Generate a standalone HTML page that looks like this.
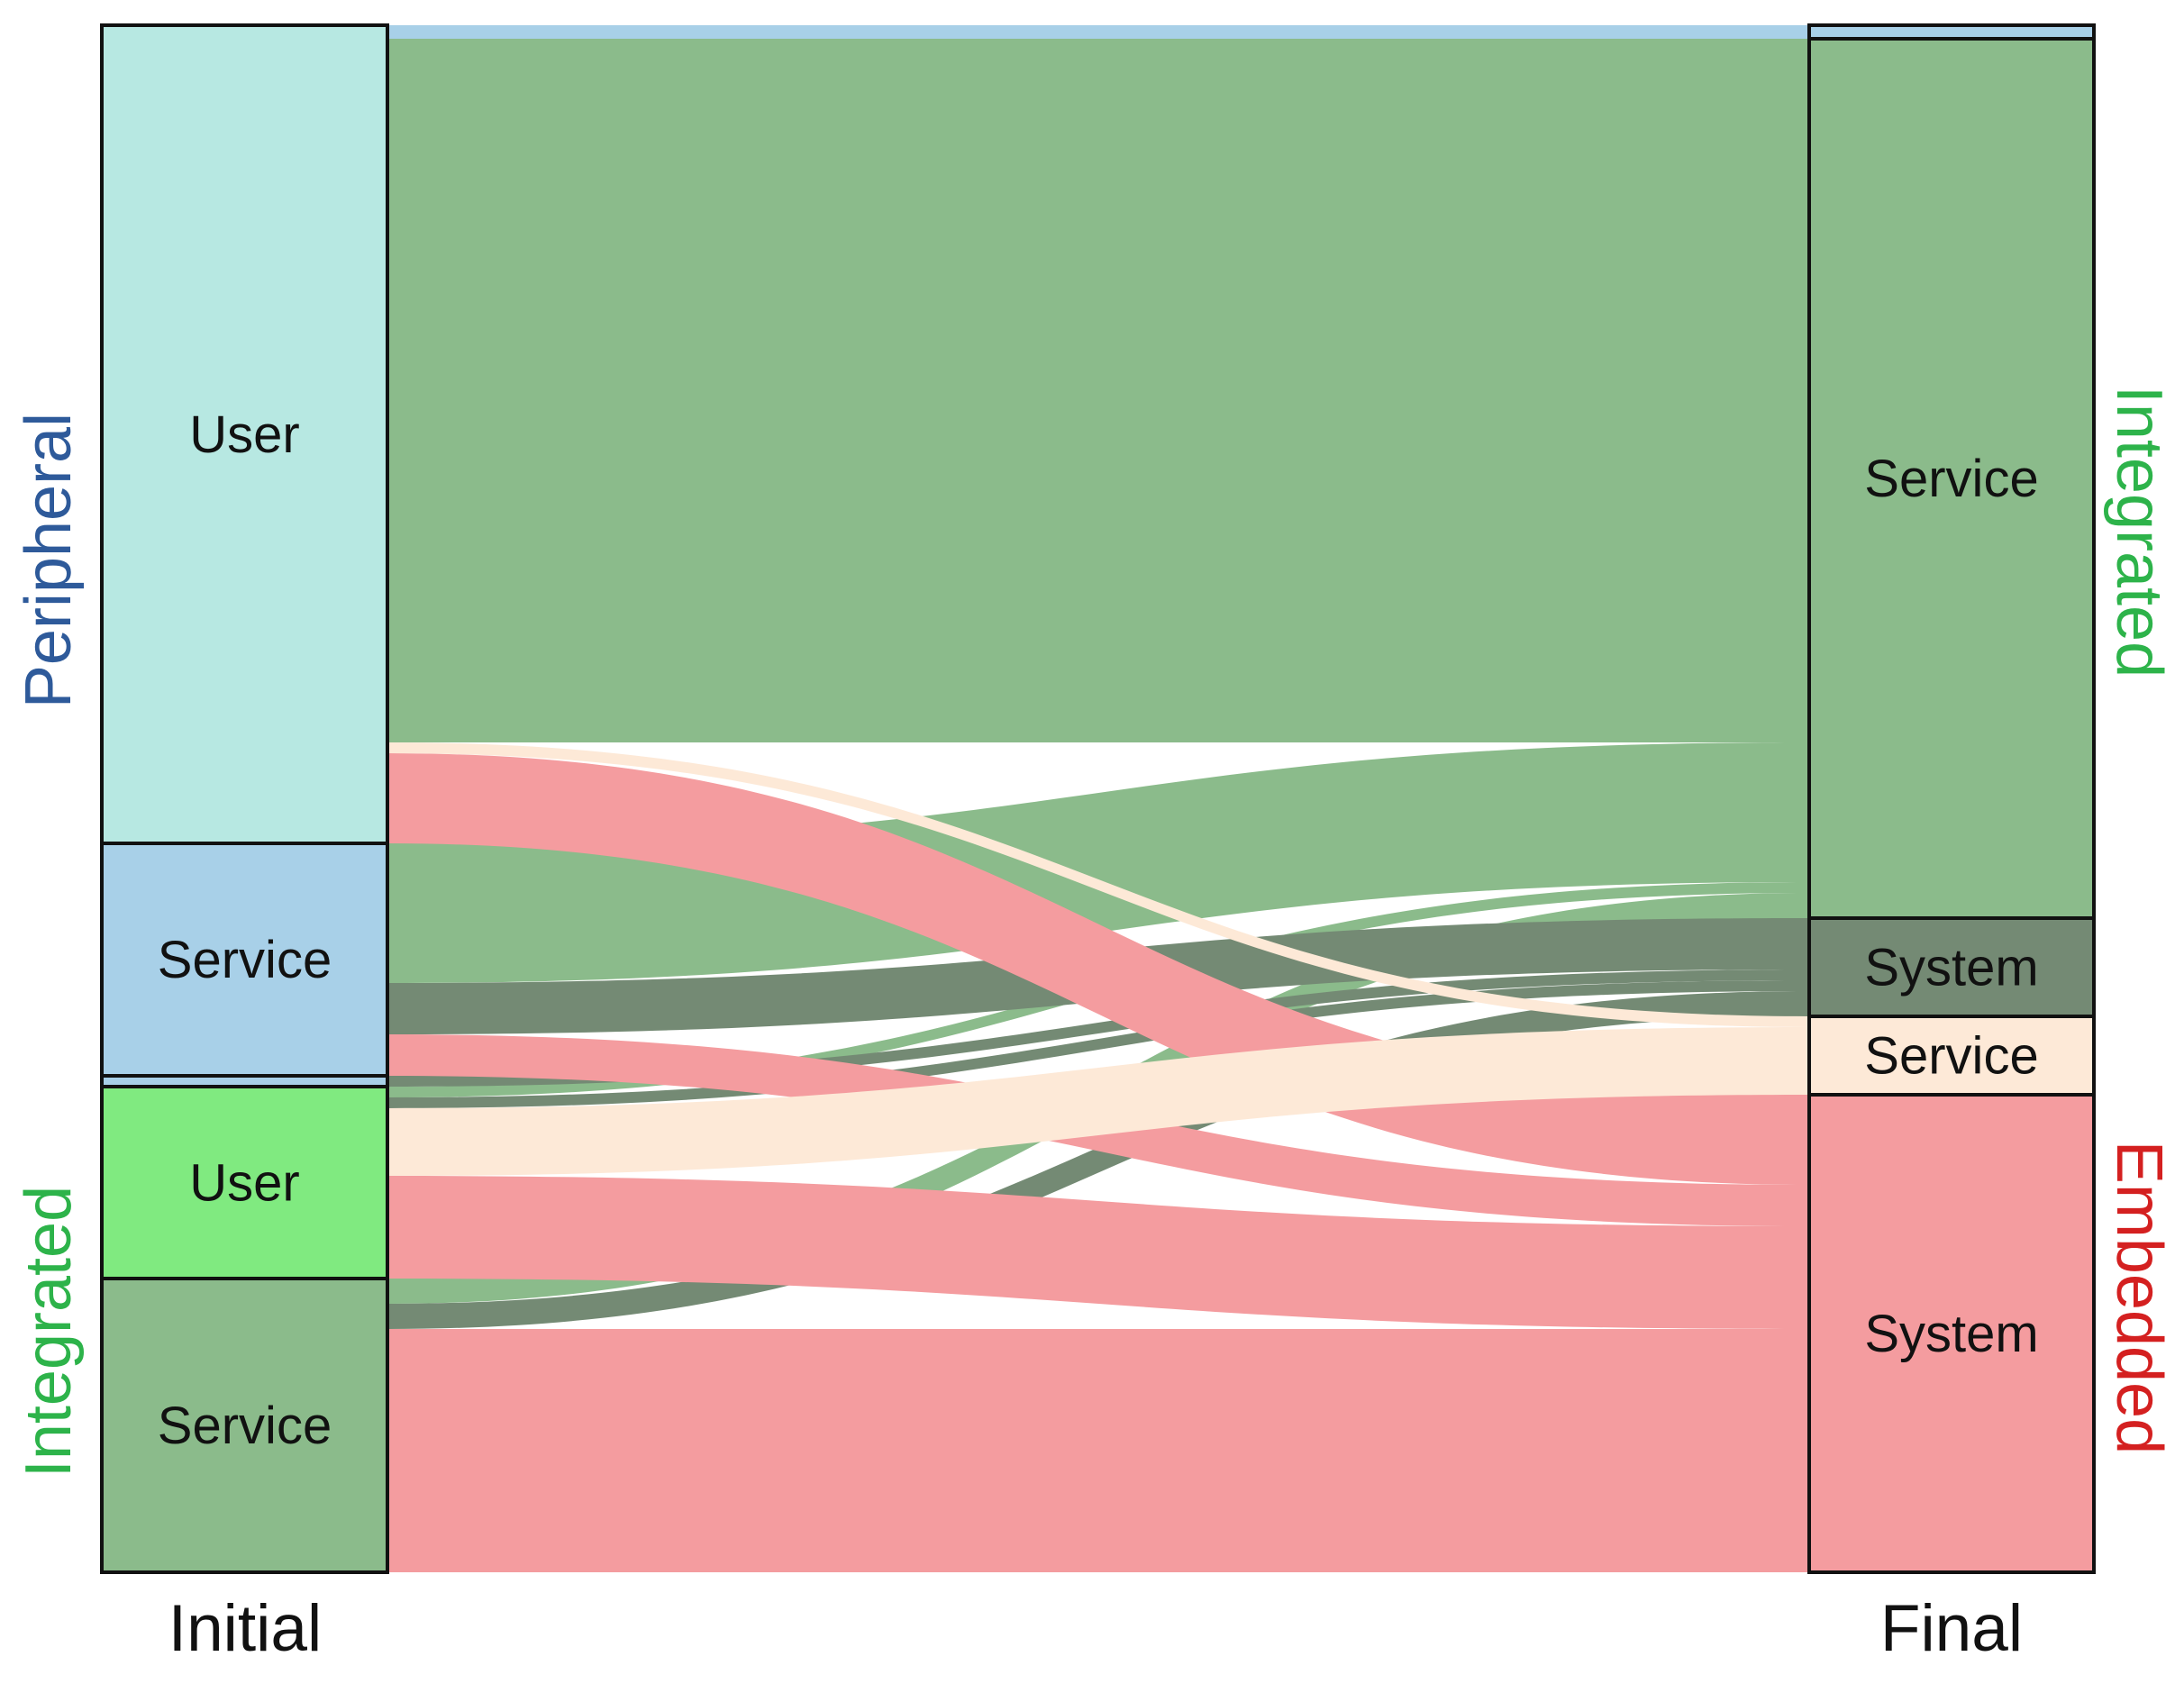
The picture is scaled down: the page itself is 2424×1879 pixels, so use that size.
<!DOCTYPE html>
<html><head><meta charset="utf-8"><style>
html,body{margin:0;padding:0;background:#fff;}
svg{display:block;font-family:"Liberation Sans",Arial,sans-serif;}
</style></head><body>
<svg id="chart" width="2424" height="1879" viewBox="0 0 2424 1879">
<g id="flows"></g>
<g id="nodes"></g>
<text x="272" y="1832" font-size="73" text-anchor="middle" fill="#111">Initial</text>
<text x="2166" y="1832" font-size="73" text-anchor="middle" fill="#111">Final</text>
<text transform="translate(78,622) rotate(-90)" font-size="72" text-anchor="middle" fill="#2e5a9a">Peripheral</text>
<text transform="translate(78,1478) rotate(-90)" font-size="72" text-anchor="middle" fill="#2db34a">Integrated</text>
<text transform="translate(2350,590) rotate(90)" font-size="72" text-anchor="middle" fill="#2db34a">Integrated</text>
<text transform="translate(2350,1440) rotate(90)" font-size="72" text-anchor="middle" fill="#d42020">Embedded</text>
</svg>
<script>
const leftNodes = ["User","Service","System","User","Service"];
const leftNames = ["peripheral-user","peripheral-service","peripheral-system","integrated-user","integrated-service"];
const rightNodes = ["","Service","System","Service","System"];
const rightNames = ["peripheral-final","integrated-service-final","integrated-system-final","embedded-service-final","embedded-system-final"];
const flowSource = [0,0,0,0, 1,1,1, 2, 3,3,3,3, 4,4,4];
const flowTarget = [0,1,3,4, 1,2,4, 2, 1,2,3,4, 1,2,4];
const flowValue  = [15,781,12,100, 155,57,46, 12, 12,12,75,114, 28,28,270];
const drawOrder  = [0,1,2,4,3];

const leftColors = ["#b7e8e2","#a8d0e8","#a8d0e8","#80ea80","#8bbb8b"];
const rightColors = ["#a8d0e8","#8bbb8b","#748a74","#fde9d7","#f49c9f"];
const TOP=28, LX0=113, LX1=430, RX0=2008, RX1=2324;
const NS="http://www.w3.org/2000/svg";
const fg=document.getElementById('flows'), ng=document.getElementById('nodes');
function sums(idx,n){const s=new Array(n).fill(0);flowValue.forEach((v,i)=>s[idx[i]]+=v);return s;}
const lS=sums(flowSource,5), rS=sums(flowTarget,5);
function starts(s){const o=[];let y=TOP;s.forEach(v=>{o.push(y);y+=v;});return o;}
const lY=starts(lS), rY=starts(rS);
const lOff=lY.slice(), rOff=rY.slice();
const paths=[];
flowValue.forEach((v,i)=>{
  const s=flowSource[i], t=flowTarget[i];
  const y0=lOff[s], y1=rOff[t]; lOff[s]+=v; rOff[t]+=v;
  const mx=(LX1+RX0)/2;
  const p=document.createElementNS(NS,'path');
  p.setAttribute('d',`M${LX1},${y0} C${mx},${y0} ${mx},${y1} ${RX0},${y1} L${RX0},${y1+v} C${mx},${y1+v} ${mx},${y0+v} ${LX1},${y0+v} Z`);
  p.setAttribute('fill',rightColors[t]);
  
  
  paths.push({t:t,s:s,p:p});
});
paths.sort((a,b)=>drawOrder.indexOf(a.t)-drawOrder.indexOf(b.t)||a.s-b.s).forEach(o=>fg.appendChild(o.p));
function node(x0,x1,y,h,col,label,name){
  const r=document.createElementNS(NS,'rect');
  r.setAttribute('x',x0);r.setAttribute('y',y);r.setAttribute('width',x1-x0);r.setAttribute('height',h);
  r.setAttribute('fill',col);r.setAttribute('stroke','#111');r.setAttribute('stroke-width','4');
  
  
  ng.appendChild(r);
  if(label){
    const t=document.createElementNS(NS,'text');
    t.setAttribute('x',(x0+x1)/2);t.setAttribute('y',y+h/2+20);
    t.setAttribute('font-size','58');t.setAttribute('text-anchor','middle');t.setAttribute('fill','#111');
    t.textContent=label;
    
    
    ng.appendChild(t);
  }
}
leftNodes.forEach((l,i)=>node(LX0,LX1,lY[i],lS[i],leftColors[i],lS[i]>40?l:"",leftNames[i]));
rightNodes.forEach((l,i)=>node(RX0,RX1,rY[i],rS[i],rightColors[i],rS[i]>40?l:"",rightNames[i]));
</script>
</body></html>
